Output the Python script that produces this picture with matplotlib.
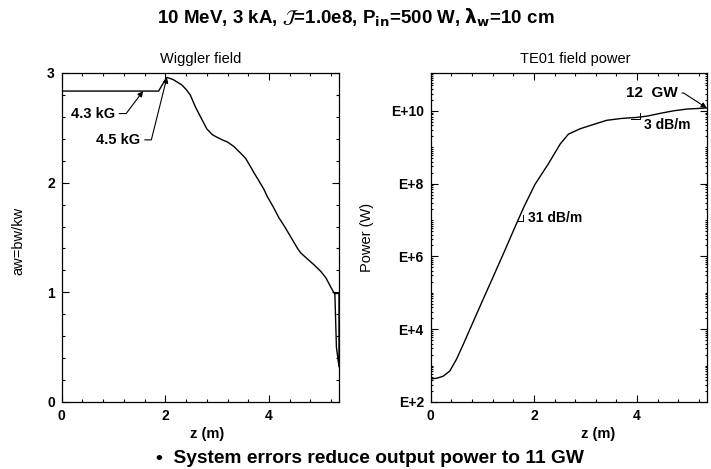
import numpy as np
import matplotlib
matplotlib.use("Agg")
import matplotlib.pyplot as plt
from matplotlib.ticker import FixedLocator, MultipleLocator, FuncFormatter, NullFormatter

plt.rcParams["font.family"] = ["Liberation Sans", "DejaVu Sans"]
plt.rcParams["mathtext.fontset"] = "dejavusans"

# wiggler parameter along the undulator
z_aw = [0.0, 1.87, 1.95, 2.03, 2.15, 2.32, 2.40, 2.48, 2.58, 2.70, 2.80, 2.90,
        2.97, 3.10, 3.20, 3.32, 3.45, 3.55, 3.65, 3.71, 3.80, 3.90, 3.97, 4.08,
        4.19, 4.30, 4.45, 4.55, 4.61, 4.75, 4.87, 5.00, 5.10, 5.20, 5.26, 5.35,
        5.35, 5.30, 5.27]
aw = [2.835, 2.835, 2.90, 2.96, 2.94, 2.89, 2.85, 2.80, 2.69, 2.58, 2.49, 2.44,
      2.42, 2.39, 2.37, 2.33, 2.27, 2.22, 2.14, 2.09, 2.02, 1.94, 1.87, 1.78,
      1.68, 1.60, 1.48, 1.40, 1.36, 1.30, 1.25, 1.19, 1.13, 1.04, 0.99, 0.99,
      0.32, 0.50, 0.99]

# TE01 power growth
z_p = [0.0, 0.12, 0.24, 0.37, 0.50, 0.63, 0.76, 0.96, 1.21, 1.41, 1.60, 1.80,
       2.02, 2.28, 2.51, 2.67, 2.89, 3.10, 3.41, 3.70, 3.99, 4.20, 4.44, 4.70,
       4.96, 5.35]
power = [430, 450, 510, 710, 1.5e3, 3.8e3, 1.0e4, 4.4e4, 2.75e5, 1.2e6, 5.0e6,
         2.2e7, 9.5e7, 3.5e8, 1.23e9, 2.3e9, 3.2e9, 4.0e9, 5.5e9, 6.2e9, 6.6e9,
         7.2e9, 8.5e9, 1.0e10, 1.12e10, 1.2e10]

title = (r"10 MeV, 3 kA, $\mathcal{J}$=1.0e8, P$_{\mathbf{in}}$=500 W, "
         r"$\mathbf{\lambda}_{\mathbf{w}}$=10 cm")
note = "\u2022  System errors reduce output power to 11 GW"

fig = plt.figure(figsize=(7.11, 4.69), dpi=100)
ax1 = fig.add_axes([0.0868, 0.1429, 0.390, 0.7015])
ax2 = fig.add_axes([0.6058, 0.1429, 0.3882, 0.7015])

for ax in (ax1, ax2):
    ax.tick_params(which="both", direction="in", top=True, right=True, width=0.8)
    ax.tick_params(which="major", length=5, labelsize=10, pad=5)
    ax.tick_params(which="minor", length=2.5)
    for sp in ax.spines.values():
        sp.set_linewidth(0.9)
    ax.set_xlim(0, 5.35)
    ax.xaxis.set_major_locator(MultipleLocator(2))
    ax.xaxis.set_minor_locator(MultipleLocator(0.4))
    ax.set_xlabel("z (m)", fontsize=10.5, fontweight="bold")

# left: wiggler field
ax1.plot(z_aw, aw, color="black", lw=1.0)
ax1.set_ylim(0, 3)
ax1.yaxis.set_major_locator(MultipleLocator(1))
ax1.yaxis.set_minor_locator(MultipleLocator(0.2))
ax1.set_title("Wiggler field", fontsize=10.5, pad=7)
ax1.set_ylabel("aw=bw/kw", fontsize=10.5)
ax1.yaxis.set_label_coords(-0.13, 0.49)
ax1.xaxis.set_label_coords(0.524, -0.075)

arrow = dict(arrowstyle="-|>", color="black", lw=0.8, mutation_scale=8,
             shrinkA=1, shrinkB=0, relpos=(1, 0.5))
ax1.annotate("4.3 kG", xy=(1.57, aw[0]), xytext=(1.03, 2.63),
             ha="right", va="center", fontsize=10.5, fontweight="bold",
             arrowprops=dict(arrow, connectionstyle="angle,angleA=0,angleB=53,rad=0"))
ax1.annotate("4.5 kG", xy=(z_aw[3], aw[3]), xytext=(1.52, 2.39),
             ha="right", va="center", fontsize=10.5, fontweight="bold",
             arrowprops=dict(arrow, connectionstyle="angle,angleA=0,angleB=76,rad=0"))

# right: TE01 power
ax2.semilogy(z_p, power, color="black", lw=1.0)
ax2.set_ylim(1e2, 1.1e11)
ax2.yaxis.set_major_locator(FixedLocator([1e2, 1e4, 1e6, 1e8, 1e10]))
ax2.yaxis.set_major_formatter(
    FuncFormatter(lambda v, pos: "E+%d" % round(np.log10(v))))
minor = [m * 10.0 ** d for d in range(2, 11) for m in range(2, 10)]
ax2.yaxis.set_minor_locator(FixedLocator(minor + [1e3, 1e5, 1e7, 1e9, 1e11]))
ax2.yaxis.set_minor_formatter(NullFormatter())
ax2.tick_params(axis="y", which="minor", length=1.5)
ax2.set_title("TE01 field power", fontsize=10.5, pad=7, x=0.523)
ax2.set_ylabel("Power (W)", fontsize=10.5)
ax2.yaxis.set_label_coords(-0.205, 0.5)
ax2.xaxis.set_label_coords(0.606, -0.075)

for ax in (ax1, ax2):
    for lbl in ax.get_xticklabels() + ax.get_yticklabels():
        lbl.set_fontweight("bold")

ax2.annotate("12  GW", xy=(z_p[-1], power[-1]), xytext=(4.79, 10 ** 10.49),
             ha="right", va="center", fontsize=11, fontweight="bold",
             arrowprops=dict(arrow, connectionstyle="angle,angleA=0,angleB=-33,rad=0"))


def slope_mark(ax, x, y, label, hlen, vlen, dx, dy):
    # corner tick at (x, y): short stroke to the left, short stroke upward
    px, py = ax.transData.transform((x, y))
    inv = ax.transData.inverted()
    pts = [(px - hlen, py), (px, py), (px, py + vlen)]
    xs, ys = zip(*[inv.transform(p) for p in pts])
    ax.plot(xs, ys, color="black", lw=0.7)
    ax.annotate(label, xy=(x, y), xytext=(dx, dy), textcoords="offset pixels",
                ha="left", va="center", fontsize=10, fontweight="bold")


fig.canvas.draw()
slope_mark(ax2, 1.78, 10 ** 6.96, "31 dB/m", 5, 6, 5, 3)
slope_mark(ax2, 4.06, 10 ** 9.79, "3 dB/m", 9, 6, 4, -6)

fig.text(0.5, 0.962, title, ha="center", va="center", fontsize=13.5,
         fontweight="bold")
fig.text(0.52, 0.023, note, ha="center", va="center", fontsize=13.8,
         fontweight="bold")

fig.savefig("out.png", dpi=100)
